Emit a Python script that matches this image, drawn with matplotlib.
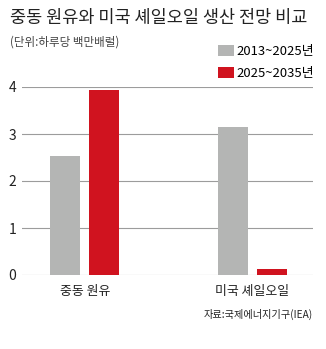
import matplotlib
matplotlib.use("Agg")
import matplotlib.pyplot as plt
import numpy as np

plt.rcParams["font.family"] = ["Noto Sans CJK KR", "DejaVu Sans"]

CATS = ["중동 원유", "미국 셰일오일"]
SERIES = ["2013~2025년", "2025~2035년"]
V_EARLY = [2.53, 3.15]
V_LATE = [3.94, 0.13]
YTICKS = [0, 1, 2, 3, 4]

GRAY, RED = "#b4b5b4", "#d0131f"
INK, GRID = "#222222", "#9c9c9c"

fig = plt.figure(figsize=(3.26, 3.49), dpi=100)
fig.patch.set_facecolor("white")
ax = fig.add_axes([22 / 326, 1 - 275 / 349, (313 - 22) / 326, (275 - 87) / 349])

x = np.arange(len(CATS))
off, w = 0.1164, 0.179
b1 = ax.bar(x - off, V_EARLY, w, color=GRAY, label=SERIES[0], zorder=2)
b2 = ax.bar(x + off, V_LATE, w, color=RED, label=SERIES[1], zorder=2)

ax.set_xlim(-0.376, 1.361)
ax.set_ylim(0, 4)
ax.set_yticks(YTICKS)
ax.yaxis.grid(True, color=GRID, lw=0.8, zorder=1)
ax.set_axisbelow(True)
for s in ax.spines.values():
    s.set_visible(False)
ax.tick_params(axis="y", length=0, pad=4, labelsize=10, labelcolor=INK)
ax.set_xticks(x)
ax.set_xticklabels(CATS, fontsize=9.3, color=INK)
ax.tick_params(axis="x", length=0, pad=7)

fig.text(10 / 326, 1 - 18 / 349, "중동 원유와 미국 셰일오일 생산 전망 비교",
         fontsize=12.6, fontweight="medium", color=INK, va="center", ha="left")
fig.text(10 / 326, 1 - 42 / 349, "(단위:하루당 백만배럴)",
         fontsize=8.3, color="#444444", va="center", ha="left")
fig.text(313 / 326, 1 - 314 / 349, "자료:국제에너지기구(IEA)",
         fontsize=7.3, color=INK, va="center", ha="right")

fig.legend(handles=[b1, b2], loc="upper left",
           bbox_to_anchor=(218 / 326, 1 - 45 / 349), frameon=False,
           fontsize=9.4, handlelength=1.25, handleheight=0.95,
           handletextpad=0.15, labelspacing=0.65, borderaxespad=0, borderpad=0)

fig.savefig("out.png", dpi=100, facecolor="white")
